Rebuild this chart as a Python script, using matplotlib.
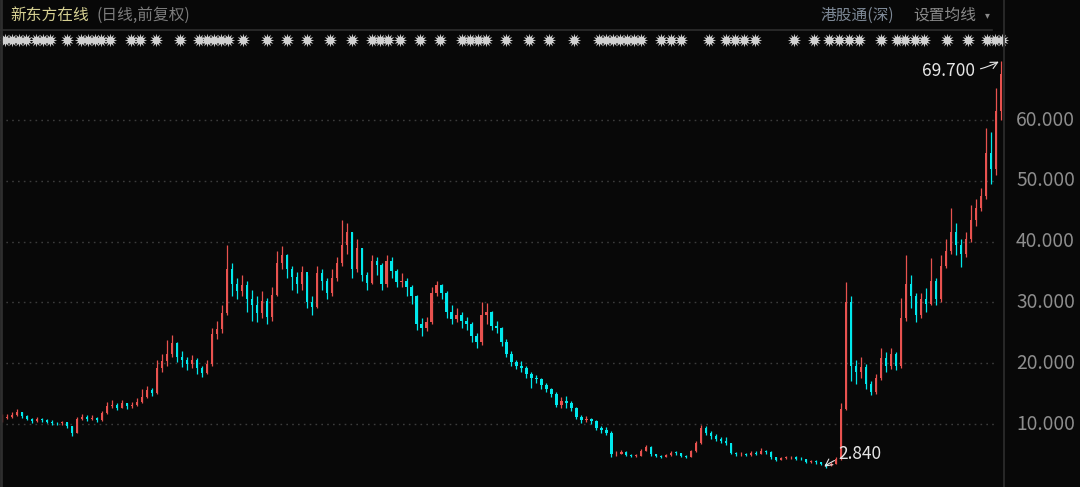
import matplotlib
matplotlib.use("Agg")
import matplotlib.pyplot as plt
import matplotlib.transforms as mtransforms
import numpy as np

plt.rcParams['font.family'] = ['Noto Sans CJK SC', 'DejaVu Sans']

# ---------------- data (~5 trading days per candle) ----------------
closes = [11.0, 11.2, 11.5, 11.9, 11.3, 10.9, 10.5, 10.8, 10.6, 10.4,
          10.2, 10.1, 10.3, 9.6, 8.6, 10.9, 11.2, 10.8, 11.0, 10.6,
          11.8, 12.9, 13.2, 12.7, 13.4, 12.9, 13.2, 13.6, 14.5, 15.6,
          15.1, 19.2, 20.3, 21.5, 23.3, 21.0, 20.5, 19.8, 20.6, 19.2,
          18.4, 19.8, 24.8, 25.6, 28.2, 35.5, 33.0, 31.8, 32.8, 30.5,
          29.5, 28.3, 30.2, 27.6, 31.2, 36.5, 37.8, 35.5, 34.2, 33.0,
          35.0, 30.0, 29.2, 34.8, 33.5, 31.5, 34.0, 36.5, 39.5, 41.5,
          35.5, 39.0, 34.5, 33.2, 36.8, 36.2, 33.0, 36.8, 35.2, 33.3,
          33.6, 32.5, 31.0, 26.5, 25.8, 26.8, 31.6, 32.8, 31.5, 28.5,
          27.2, 28.0, 27.0, 26.5, 24.5, 23.5, 28.0, 28.5, 26.2, 25.8,
          23.5, 21.5, 20.2, 19.6, 19.2, 18.2, 17.6, 17.4, 16.4, 15.8,
          15.0, 13.2, 13.8, 13.5, 12.6, 11.2, 10.6, 10.9, 10.5, 9.3,
          9.0, 8.6, 5.0, 5.1, 5.4, 4.9, 4.7, 4.8, 5.6, 6.2,
          5.0, 4.7, 4.6, 4.9, 5.3, 5.2, 4.7, 4.6, 5.5, 6.8,
          9.4, 8.6, 8.0, 7.6, 7.2, 6.8, 5.2, 5.0, 5.1, 4.9,
          5.3, 5.1, 5.6, 5.4, 4.5, 4.1, 4.4, 4.5, 4.6, 4.3,
          4.2, 3.8, 3.9, 3.7, 3.5, 3.2, 3.5, 4.2, 12.5, 30.0,
          19.5, 18.5, 19.4, 16.5, 15.2, 17.5, 20.8, 19.5, 21.5, 19.5,
          27.5, 33.0, 31.0, 28.0, 30.5, 29.8, 33.5, 30.5, 36.0, 38.5,
          41.5, 39.5, 38.0, 40.5, 43.5, 45.5, 47.5, 54.5, 52.0, 61.5,
          67.5]
highs = [11.6, 11.6, 11.9, 12.4, 12.0, 11.5, 11.0, 11.1, 11.0, 10.8,
         10.6, 10.4, 10.5, 10.3, 9.7, 11.2, 11.6, 11.4, 11.4, 11.1,
         12.2, 13.6, 14.0, 13.4, 13.9, 13.5, 13.6, 14.2, 15.8, 16.3,
         16.0, 20.5, 21.5, 23.8, 24.6, 23.5, 22.0, 21.0, 21.4, 20.8,
         19.6, 20.6, 25.8, 27.0, 29.5, 39.4, 36.5, 34.0, 34.5, 33.5,
         32.0, 31.0, 31.8, 30.8, 32.5, 38.5, 39.2, 38.0, 36.0, 35.0,
         36.0, 34.5, 31.0, 36.0, 35.5, 34.0, 35.5, 37.5, 43.5, 43.0,
         41.5, 40.5, 39.0, 35.0, 37.8, 37.5, 36.5, 37.8, 37.5, 35.5,
         34.8, 34.0, 32.8, 31.2, 27.5, 27.6, 32.5, 33.5, 33.0, 31.8,
         29.5, 29.0, 28.5, 27.6, 26.8, 25.0, 30.0, 29.9, 28.6, 27.0,
         26.0, 24.0, 22.0, 20.6, 20.3, 19.6, 18.6, 18.0, 17.6, 16.8,
         16.0, 15.2, 14.4, 14.6, 13.8, 12.8, 11.4, 11.3, 11.0, 10.6,
         9.6, 9.5, 8.8, 5.5, 5.8, 5.5, 5.0, 5.0, 5.9, 6.6,
         6.3, 5.1, 4.9, 5.1, 5.6, 5.5, 5.3, 4.9, 5.8, 7.2,
         9.9, 9.6, 8.9, 8.4, 7.9, 7.9, 6.9, 5.4, 5.4, 5.3,
         5.6, 5.5, 6.0, 5.8, 5.5, 4.6, 4.6, 4.7, 4.8, 4.7,
         4.5, 4.3, 4.1, 4.0, 3.8, 3.6, 3.7, 4.6, 13.5, 33.4,
         31.0, 20.5, 21.0, 19.8, 17.0, 18.2, 22.5, 21.8, 22.5, 21.8,
         30.7, 37.8, 34.5, 31.5, 31.5, 32.3, 37.3, 34.0, 37.8, 40.5,
         45.5, 43.0, 40.5, 41.5, 46.0, 47.0, 48.8, 58.7, 58.0, 65.3,
         69.7]
lows = [10.4, 10.8, 11.0, 11.3, 11.0, 10.6, 10.2, 10.3, 10.3, 10.1,
        9.9, 9.8, 9.9, 9.3, 8.0, 8.5, 10.6, 10.5, 10.6, 10.3,
        10.5, 11.7, 12.6, 12.3, 12.6, 12.5, 12.7, 13.0, 13.4, 14.3,
        14.6, 15.0, 18.6, 19.5, 21.0, 20.2, 19.3, 18.8, 19.2, 18.2,
        17.8, 18.2, 19.5, 24.0, 25.0, 28.0, 31.0, 30.5, 31.0, 28.5,
        27.0, 26.8, 27.5, 26.5, 27.0, 31.0, 35.5, 34.0, 32.0, 31.5,
        32.0, 29.0, 28.0, 29.0, 32.0, 30.5, 31.0, 33.5, 36.0, 38.0,
        34.0, 35.0, 33.5, 32.0, 33.0, 34.5, 32.0, 32.5, 34.0, 32.5,
        32.5, 31.0, 29.8, 25.5, 24.5, 25.3, 26.5, 31.0, 30.5, 27.5,
        26.5, 26.8, 25.8, 25.5, 23.5, 22.5, 23.0, 26.5, 25.5, 25.0,
        22.8, 21.0, 19.5, 19.0, 18.6, 17.5, 16.0, 16.8, 15.8, 15.2,
        14.4, 12.8, 12.6, 12.6, 12.2, 10.8, 10.1, 10.3, 10.0, 9.0,
        8.6, 8.2, 4.6, 4.7, 5.0, 4.7, 4.5, 4.5, 4.7, 5.5,
        4.8, 4.5, 4.4, 4.5, 4.8, 4.9, 4.5, 4.4, 4.5, 5.4,
        6.7, 8.2, 7.6, 7.2, 6.8, 6.5, 5.0, 4.8, 4.8, 4.7,
        4.8, 4.9, 5.0, 5.1, 4.3, 3.9, 4.0, 4.2, 4.3, 4.1,
        4.0, 3.6, 3.6, 3.5, 3.3, 2.84, 3.1, 3.4, 4.1, 12.3,
        17.0, 16.5, 17.5, 15.8, 14.8, 15.0, 17.2, 18.6, 19.0, 18.8,
        19.2, 27.0, 29.0, 26.8, 27.5, 28.5, 29.5, 29.6, 30.0, 35.6,
        38.0, 37.8, 35.8, 37.5, 40.0, 42.5, 45.0, 47.0, 49.5, 51.0,
        60.0]
first_open = 10.6
opens = [first_open] + closes[:-1]

y_ticks = [10, 20, 30, 40, 50, 60]
y_tick_labels = ["10.000", "20.000", "30.000", "40.000", "50.000", "60.000"]

# event markers (candle positions) shown in the star row
event_idx = [0.6, 2.0, 3.4, 4.8, 6.8, 8.2, 9.6, 13.0, 15.8, 17.2, 18.6, 19.8, 21.6,
             25.8, 27.6, 30.8, 35.6, 39.4, 41.0, 42.4, 43.8, 45.2, 48.2, 53.0, 57.0,
             61.0, 65.6, 70.0, 74.0, 75.6, 77.2, 79.6, 83.6, 87.6, 92.0, 93.6, 95.2,
             96.8, 101.0, 105.6, 109.6, 114.6, 119.6, 121.0, 122.4, 123.8, 125.2,
             126.6, 128.0, 132.0, 134.0, 136.0, 141.6, 145.0, 146.8, 148.6, 150.8,
             158.6, 162.6, 165.6, 167.6, 169.6, 171.6, 176.0, 179.2, 180.8, 182.8,
             184.6, 189.2, 193.4, 197.2, 198.8, 200.2]

title_main = "新东方在线"
title_sub = "(日线,前复权)"
right_label1 = "港股通(深)"
right_label2 = "设置均线"

# ---------------- figure ----------------
W, H = 1080, 487
BG = "#080808"
UP = "#e8524f"
DOWN = "#00e8ec"
fig = plt.figure(figsize=(W / 100, H / 100), dpi=100, facecolor=BG)

ax_left_px, ax_right_px, ax_top_px, ax_bot_px = 0, 1003, 50, 487
ax = fig.add_axes([ax_left_px / W, 1 - ax_bot_px / H,
                   (ax_right_px - ax_left_px) / W, (ax_bot_px - ax_top_px) / H])
ax.set_facecolor(BG)

n = len(closes)
x = np.arange(n)
o = np.array(opens); c = np.array(closes); h = np.array(highs); l = np.array(lows)
up = c >= o
colors = np.where(up, UP, DOWN)

ppu = (424 - 120) / 50.0
y0 = 424 + 10 * ppu
ax.set_ylim((y0 - ax_bot_px) / ppu, (y0 - ax_top_px) / ppu)
spacing = (1001 - 2) / (n - 1)
ax.set_xlim(-2 / spacing, (n - 1) + 2 / spacing)

for yt in y_ticks:
    ax.axhline(yt, xmax=996 / 1003, color="#3c3c3c", lw=1.0, ls=(0, (1.2, 3)), zorder=1)

ax.vlines(x, l, h, colors=colors, lw=0.9, zorder=2)
body_bottom = np.minimum(o, c)
body_h = np.maximum(np.abs(c - o), 0.12)
ax.bar(x, body_h, bottom=body_bottom, width=0.45, color=colors, linewidth=0, zorder=3)

for s in ax.spines.values():
    s.set_visible(False)
ax.set_xticks([]); ax.set_yticks([])

# right-side price labels
for yt, lab in zip(y_ticks, y_tick_labels):
    ax.text(1.0 + 72 / (ax_right_px - ax_left_px), yt, lab, transform=ax.get_yaxis_transform(),
            ha="right", va="center", color="#8e8e8e", fontsize=13.8, clip_on=False)

# annotations for max and min
imax = int(np.argmax(h)); imin = int(np.argmin(l))
ax.annotate(f"{h[imax]:.3f}", xy=(imax - 0.2, h[imax]), xytext=(-18, -7.5), textcoords="offset points",
            ha="right", va="center", color="#e6e6e6", fontsize=12.5,
            arrowprops=dict(arrowstyle="->", color="#e6e6e6", lw=0.8, shrinkA=2, shrinkB=1,
                            connectionstyle="arc3,rad=0.15"), annotation_clip=False)
ax.annotate(f"{l[imin]:.3f}", xy=(imin - 0.6, l[imin]), xytext=(11, 10), textcoords="offset points",
            ha="left", va="center", color="#e6e6e6", fontsize=12.5,
            arrowprops=dict(arrowstyle="->", color="#e6e6e6", lw=0.8, shrinkA=1, shrinkB=1,
                            connectionstyle="arc3,rad=0.15"), annotation_clip=False)

# event star row
trans = mtransforms.blended_transform_factory(ax.transData, fig.transFigure)
star_y = [1 - 40 / H] * len(event_idx)
ax.scatter(event_idx, star_y, transform=trans, marker=(12, 1, 0),
           s=95, color="#d0d0d0", linewidths=0, clip_on=False, zorder=5)
ax.scatter(event_idx, star_y, transform=trans, marker="o",
           s=26, color="#d0d0d0", linewidths=0, clip_on=False, zorder=5)

# frame lines
fig.add_artist(plt.Line2D([0, 992 / W], [1 - 29.5 / H] * 2, color="#2e2e2e", lw=1.2))
fig.add_artist(plt.Line2D([1003.5 / W] * 2, [0, 1], color="#2e2e2e", lw=1.2))
fig.add_artist(plt.Line2D([1 / W] * 2, [0, 1], color="#2e2e2e", lw=2))

# header texts
fig.text(10 / W, 1 - 15 / H, title_main, color="#d6d092", fontsize=11.3, va="center", ha="left")
fig.text(97 / W, 1 - 15 / H, title_sub, color="#7c7c7c", fontsize=11.3, va="center", ha="left")
fig.text(820 / W, 1 - 15 / H, right_label1, color="#7d8896", fontsize=11.3, va="center", ha="left")
fig.text(913 / W, 1 - 15 / H, right_label2, color="#8a8a8a", fontsize=11.3, va="center", ha="left")
fig.text(987 / W, 1 - 15 / H, "▾", color="#8a8a8a", fontsize=7, va="center", ha="center",
         family=["DejaVu Sans"])

fig.savefig("out.png", dpi=100, facecolor=BG)
